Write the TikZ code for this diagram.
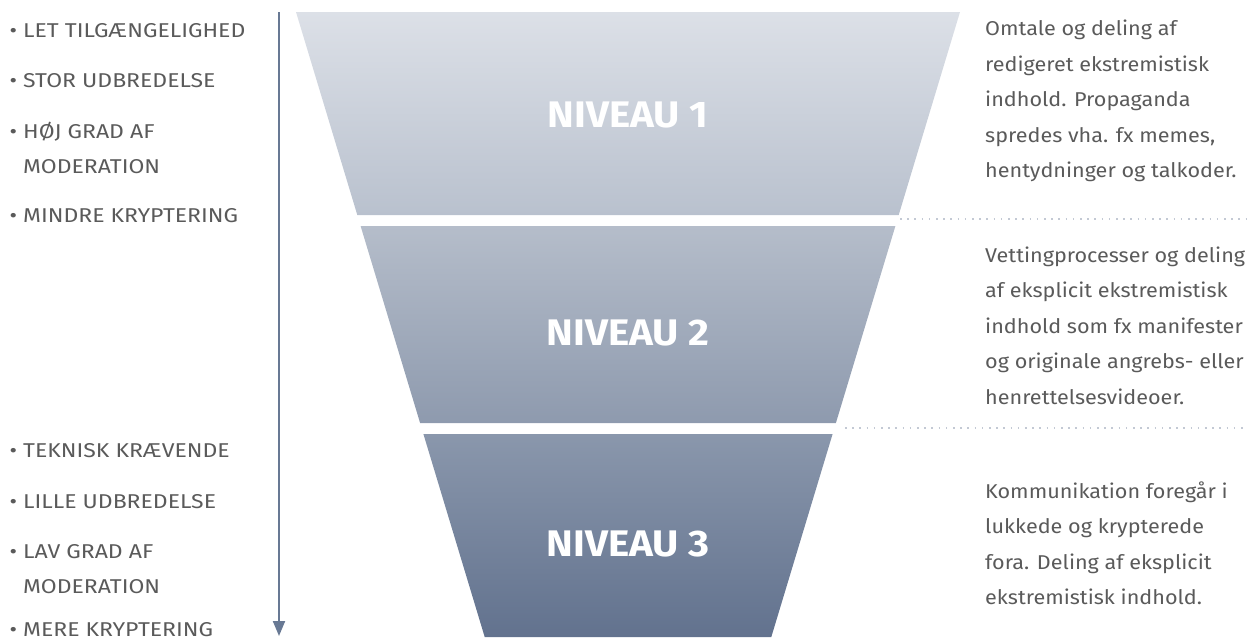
\documentclass[tikz,border=0pt]{standalone}
\usepackage{fontspec}
\setmainfont{Fira Sans}
\newfontfamily\leftfont[FakeStretch=1.15]{Fira Sans}
\newfontfamily\rightfont[FakeStretch=1.08]{Fira Sans}
\newfontfamily\levelfont[FakeStretch=1.09]{Fira Sans}
\usetikzlibrary{arrows.meta}
\definecolor{txtgray}{HTML}{5A5A5A}
\definecolor{arrowblue}{HTML}{687994}
\definecolor{dotgray}{HTML}{C3C9D4}
\definecolor{tAtop}{HTML}{DCE0E7}
\definecolor{tAbot}{HTML}{B9C1CE}
\definecolor{tBtop}{HTML}{B5BDCA}
\definecolor{tBbot}{HTML}{8E9AAE}
\definecolor{tCtop}{HTML}{8A97AC}
\definecolor{tCbot}{HTML}{62728E}
\begin{document}
\begin{tikzpicture}[x=1pt,y=-1pt,
  lefttxt/.style={anchor=base west, inner sep=0pt, text=txtgray, font=\leftfont\fontsize{20}{35}\selectfont},
  righttxt/.style={anchor=base west, inner sep=0pt, text=txtgray, font=\rightfont\fontsize{20}{35.5}\selectfont},
  leveltxt/.style={text=white, font=\levelfont\fontsize{37}{40}\selectfont\bfseries, inner sep=0pt},
  dotline/.style={dotgray, line width=1.6pt, dash pattern=on 1.6pt off 5.6pt},
  flow/.style={arrowblue, line width=2pt, -{Triangle[length=15pt,width=12pt]}}
]
\useasboundingbox (0,0) rectangle (1247,637);
% funnel tiers
\shade[top color=tAtop, bottom color=tAbot] (296,12) -- (960,12) -- (898.7,215) -- (357.3,215) -- cycle;
\shade[top color=tBtop, bottom color=tBbot] (360.6,226) -- (895.4,226) -- (835.9,423) -- (420.1,423) -- cycle;
\shade[top color=tCtop, bottom color=tCbot] (423.4,434) -- (832.6,434) -- (771.3,637) -- (484.7,637) -- cycle;
\node[leveltxt] (lvA) at (628,115) {NIVEAU 1};
\node[leveltxt] (lvB) at (628,333) {NIVEAU 2};
\node[leveltxt] (lvC) at (628,544) {NIVEAU 3};
% dotted separators
\coordinate (dA1) at (900,219);
\coordinate (dA2) at (1247,219);
\coordinate (dB1) at (845,428);
\coordinate (dB2) at (1247,428);
\draw[dotline] (dA1) -- (dA2);
\draw[dotline] (dB1) -- (dB2);
% arrow
\coordinate (arTop) at (279,12);
\coordinate (arBot) at (279,636);
\draw[flow] (arTop) -- (arBot);
% left texts
\node[lefttxt] (la) at (23,37) {\llap{•\hspace{6pt}}LET TILGÆNGELIGHED};
\node[lefttxt] (lb) at (23,87) {\llap{•\hspace{6pt}}STOR UDBREDELSE};
\node[lefttxt] (lc) at (23,138) {\begin{tabular}[t]{@{}l@{}}\llap{•\hspace{6pt}}HØJ GRAD AF\\MODERATION\end{tabular}};
\node[lefttxt] (ld) at (23,222) {\llap{•\hspace{6pt}}MINDRE KRYPTERING};
\node[lefttxt] (le) at (23,457) {\llap{•\hspace{6pt}}TEKNISK KRÆVENDE};
\node[lefttxt] (lf) at (23,508) {\llap{•\hspace{6pt}}LILLE UDBREDELSE};
\node[lefttxt] (lg) at (23,558) {\begin{tabular}[t]{@{}l@{}}\llap{•\hspace{6pt}}LAV GRAD AF\\MODERATION\end{tabular}};
\node[lefttxt] (lh) at (23,636.5) {\llap{•\hspace{6pt}}MERE KRYPTERING};
% right texts
\node[righttxt] (ra) at (985,35.5) {\begin{tabular}[t]{@{}l@{}}Omtale og deling af\\redigeret ekstremistisk\\indhold. Propaganda\\spredes vha. fx memes,\\hentydninger og talkoder.\end{tabular}};
\node[righttxt] (rb) at (985,262) {\begin{tabular}[t]{@{}l@{}}Vettingprocesser og deling\\af eksplicit ekstremistisk\\indhold som fx manifester\\og originale angrebs- eller\\henrettelsesvideoer.\end{tabular}};
\node[righttxt] (rc) at (985,498) {\begin{tabular}[t]{@{}l@{}}Kommunikation foregår i\\lukkede og krypterede\\fora. Deling af eksplicit\\ekstremistisk indhold.\end{tabular}};
\end{tikzpicture}
\end{document}
